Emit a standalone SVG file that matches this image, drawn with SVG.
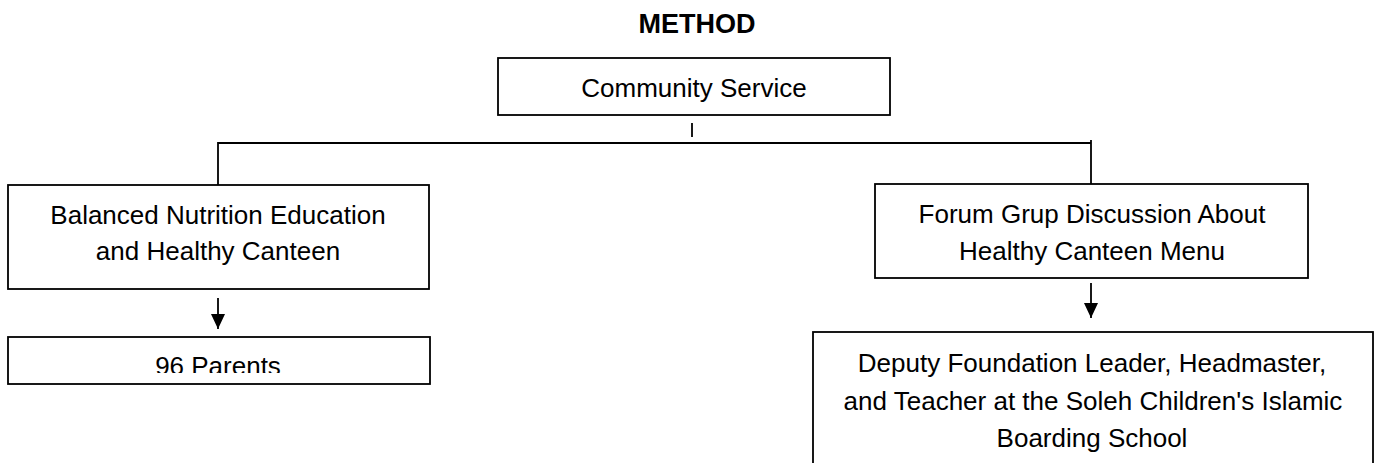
<svg xmlns="http://www.w3.org/2000/svg" width="1379" height="463" viewBox="0 0 1379 463">
<style>
.box{fill:#fff;stroke:#000;stroke-width:1.8}
.t{font-family:"Liberation Sans",Arial,sans-serif;font-size:26px;fill:#000;text-anchor:middle}
.title{font-family:"Liberation Sans",Arial,sans-serif;font-size:27px;font-weight:bold;fill:#000;text-anchor:middle}
.c{fill:none;stroke:#000;stroke-width:1.8}
</style>
<defs>
<marker id="ah" markerWidth="15" markerHeight="14" refX="15" refY="7" orient="auto" markerUnits="userSpaceOnUse" viewBox="0 0 15 14">
<path d="M0,0 L15,7 L0,14 Z" fill="#000"/>
</marker>
<clipPath id="clipP"><rect x="9" y="338" width="420" height="35"/></clipPath>
</defs>
<text class="title" x="697" y="33">METHOD</text>
<g id="connectors">
<line class="c" x1="692" y1="123" x2="692" y2="137"/>
<polyline class="c" points="218,185 218,143 1091,143"/>
<line class="c" x1="1091" y1="140" x2="1091" y2="184"/>
<line class="c" x1="218" y1="298" x2="218" y2="329" marker-end="url(#ah)"/>
<line class="c" x1="1091" y1="283" x2="1091" y2="318" marker-end="url(#ah)"/>
</g>
<g id="community">
<rect class="box" x="498" y="58" width="392" height="57"/>
<text class="t" x="694" y="97">Community Service</text>
</g>
<g id="balanced">
<rect class="box" x="8" y="185" width="421" height="104"/>
<text class="t" x="218" y="224">Balanced Nutrition Education</text>
<text class="t" x="218" y="260">and Healthy Canteen</text>
</g>
<g id="parents">
<rect class="box" x="8" y="337" width="422" height="47"/>
<text class="t" x="218" y="375" clip-path="url(#clipP)">96 Parents</text>
</g>
<g id="forum">
<rect class="box" x="875" y="184" width="433" height="94"/>
<text class="t" x="1092" y="223">Forum Grup Discussion About</text>
<text class="t" x="1092" y="260">Healthy Canteen Menu</text>
</g>
<g id="deputy">
<rect class="box" x="813" y="332" width="560" height="150"/>
<text class="t" x="1092" y="372">Deputy Foundation Leader, Headmaster,</text>
<text class="t" x="1093" y="410">and Teacher at the Soleh Children's Islamic</text>
<text class="t" x="1092" y="447">Boarding School</text>
</g>
</svg>
